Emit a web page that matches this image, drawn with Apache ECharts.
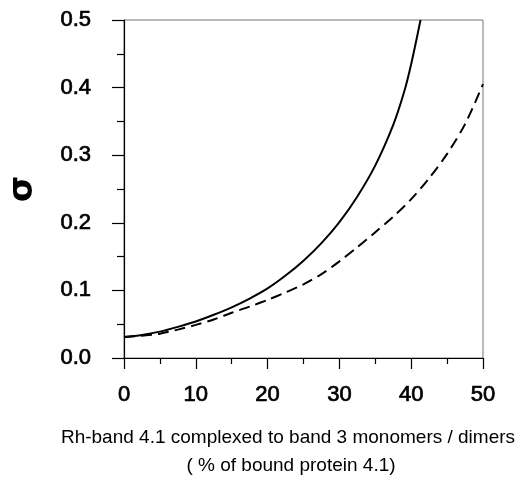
<!DOCTYPE html>
<html>
<head>
<meta charset="utf-8">
<script src="https://cdn.jsdelivr.net/npm/echarts@6/dist/echarts.min.js"></script>
<style>html,body{margin:0;padding:0;background:#fff}#c{width:527px;height:477px}</style>
</head>
<body>
<div id="c"></div>
<script>
// Data
var solidX = [0, 2.5, 5, 7.5, 10, 12.5, 15, 17.5, 20, 22.5, 25, 27.5, 30, 32.5, 35, 37.5, 39, 40, 41.3];
var solidY = [0.031, 0.034, 0.039, 0.046, 0.054, 0.064, 0.075, 0.088, 0.103, 0.122, 0.144, 0.170, 0.201, 0.239, 0.285, 0.345, 0.393, 0.435, 0.5];
var dashX = [0, 2.5, 5, 7.5, 10, 12.5, 15, 17.5, 20, 22.5, 25, 27.5, 30, 32.5, 35, 37.5, 40, 42.5, 45, 47.5, 50];
var dashY = [0.031, 0.033, 0.036, 0.042, 0.049, 0.057, 0.067, 0.076, 0.086, 0.097, 0.109, 0.124, 0.143, 0.164, 0.186, 0.209, 0.235, 0.266, 0.302, 0.346, 0.405];
var xTicks = [0, 10, 20, 30, 40, 50];
var yTicks = [0.0, 0.1, 0.2, 0.3, 0.4, 0.5];
var xTitle1 = 'Rh-band 4.1 complexed to band 3 monomers / dimers';
var xTitle2 = '( % of bound protein 4.1)';
var yTitle = 'σ';

function pairs(xs, ys) { return xs.map(function (x, i) { return [x, ys[i]]; }); }

var chart = echarts.init(document.getElementById('c'));
chart.setOption({
  animation: false,
  backgroundColor: '#fff',
  grid: { left: 124, right: 44, top: 20, bottom: 119, show: true, borderColor: '#777', borderWidth: 1,
    containLabel: false, outerBoundsMode: 'none' },
  xAxis: {
    type: 'value', min: xTicks[0], max: xTicks[xTicks.length - 1], interval: 10,
    axisLine: { show: true, onZero: false, lineStyle: { color: '#000', width: 1.2 } },
    axisTick: { show: true, inside: false, length: 11, lineStyle: { color: '#000', width: 1.2 } },
    minorTick: { show: true, splitNumber: 2, length: 6, lineStyle: { color: '#000', width: 1.2 } },
    splitLine: { show: false },
    axisLabel: { margin: 26, fontFamily: 'Liberation Sans', fontSize: 22, color: '#000',
      textBorderColor: '#000', textBorderWidth: 0.7 }
  },
  yAxis: {
    type: 'value', min: yTicks[0], max: yTicks[yTicks.length - 1], interval: 0.1,
    axisLine: { show: true, onZero: false, lineStyle: { color: '#000', width: 1.2 } },
    axisTick: { show: true, inside: false, length: 12, lineStyle: { color: '#000', width: 1.2 } },
    minorTick: { show: true, splitNumber: 2, length: 7, lineStyle: { color: '#000', width: 1.2 } },
    splitLine: { show: false },
    axisLabel: { margin: 33, fontFamily: 'Liberation Sans', fontSize: 22, color: '#000',
      textBorderColor: '#000', textBorderWidth: 0.7,
      formatter: function (v) { return v.toFixed(1); } },
    name: yTitle, nameLocation: 'middle', nameGap: 84, nameRotate: 90,
    nameTextStyle: { fontFamily: 'DejaVu Sans', fontSize: 34, fontWeight: 'bold', color: '#000' }
  },
  graphic: [
    { type: 'text', x: 288, y: 438, style: { text: xTitle1, font: '19px "Liberation Sans"', fill: '#000', align: 'center', verticalAlign: 'middle' } },
    { type: 'text', x: 291, y: 466, style: { text: xTitle2, font: '19px "Liberation Sans"', fill: '#000', align: 'center', verticalAlign: 'middle' } }
  ],
  series: [
    { type: 'line', data: pairs(solidX, solidY), smooth: 0.3, showSymbol: false, clip: true,
      lineStyle: { color: '#000', width: 2, type: 'solid' } },
    { type: 'line', data: pairs(dashX, dashY), smooth: 0.3, showSymbol: false, clip: true,
      lineStyle: { color: '#000', width: 2, type: [11, 6] } }
  ]
});
</script>
</body>
</html>
